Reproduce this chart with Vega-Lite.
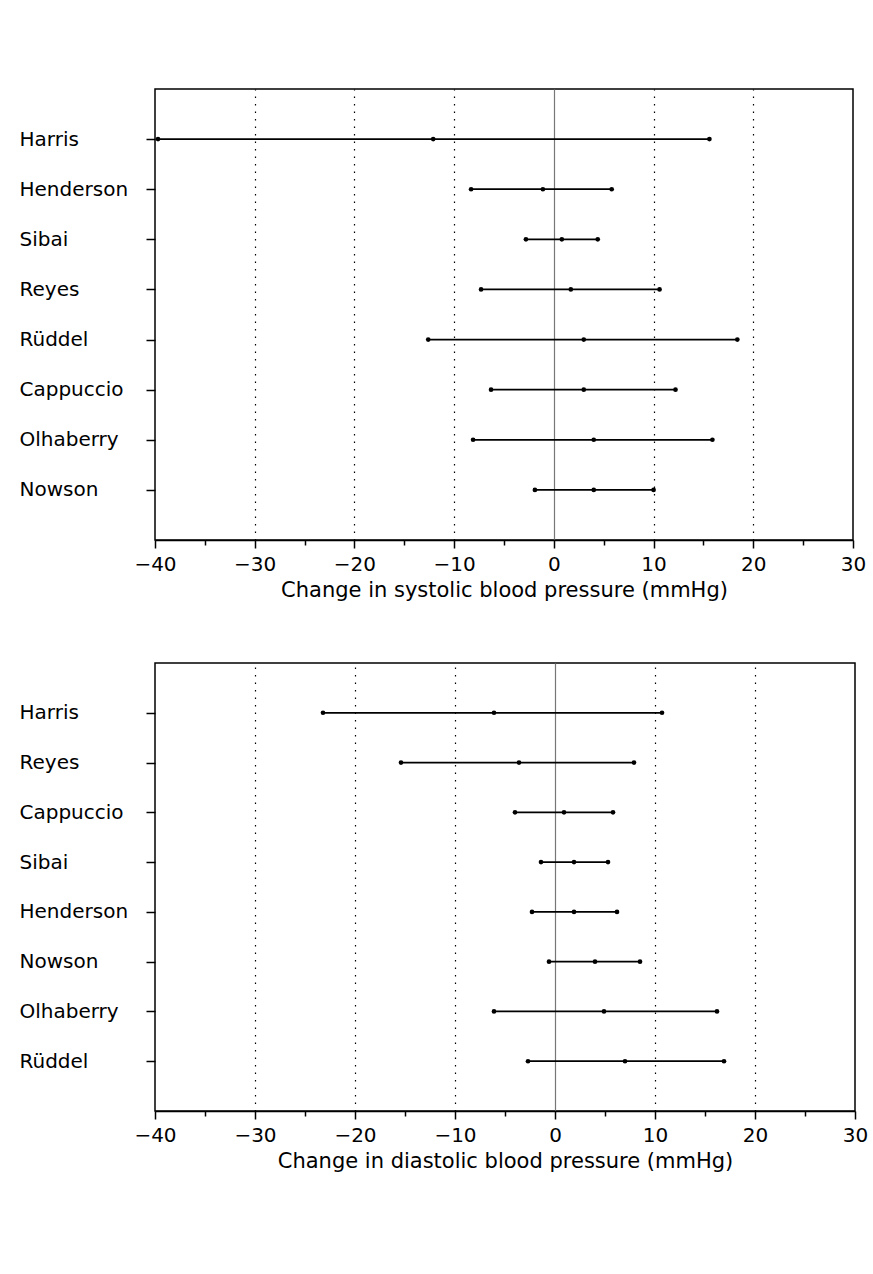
{
  "$schema": "https://vega.github.io/schema/vega-lite/v6.json",
  "background": "white",
  "padding": {"left": 18, "top": 88, "right": 10, "bottom": 10},
  "spacing": 61,
  "config": {
    "font": "DejaVu Sans",
    "view": {"stroke": "black", "strokeWidth": 1.5},
    "axis": {
      "labelFont": "DejaVu Sans",
      "labelFontSize": 20,
      "labelColor": "black",
      "titleFont": "DejaVu Sans",
      "titleFontSize": 21,
      "titleFontWeight": "normal",
      "titleColor": "black",
      "tickColor": "black",
      "domainColor": "black"
    },
    "axisY": {
      "title": null,
      "domain": false,
      "grid": false,
      "tickSize": 9,
      "tickWidth": 1.5,
      "labelAlign": "left",
      "labelBaseline": "middle",
      "labelPadding": 127
    },
    "axisX": {
      "values": [-40, -35, -30, -25, -20, -15, -10, -5, 0, 5, 10, 15, 20, 25, 30],
      "labelExpr": "datum.value % 10 === 0 ? datum.label : ''",
      "labelOverlap": false,
      "labelFlush": false,
      "labelPadding": 6,
      "titlePadding": 5,
      "domainWidth": 1.5,
      "tickWidth": 1.5,
      "tickSize": {"condition": {"test": "datum.value % 10 === 0", "value": 8}, "value": 5},
      "grid": true,
      "gridWidth": 1.2,
      "gridColor": {"condition": {"test": "datum.value === 0", "value": "#777777"}, "value": "black"},
      "gridDash": {"condition": {"test": "datum.value === 0", "value": []}, "value": [1.5, 6]},
      "gridOpacity": {"condition": {"test": "datum.value % 10 !== 0 || datum.value === -40 || datum.value === 30", "value": 0}, "value": 1}
    }
  },
  "vconcat": [
    {
      "width": 698,
      "height": 451,
      "data": {
        "values": [
          {"study": "Harris", "lower": -39.7, "est": -12.1, "upper": 15.6},
          {"study": "Henderson", "lower": -8.3, "est": -1.1, "upper": 5.8},
          {"study": "Sibai", "lower": -2.8, "est": 0.8, "upper": 4.4},
          {"study": "Reyes", "lower": -7.3, "est": 1.7, "upper": 10.6},
          {"study": "Rüddel", "lower": -12.6, "est": 3.0, "upper": 18.4},
          {"study": "Cappuccio", "lower": -6.3, "est": 3.0, "upper": 12.2},
          {"study": "Olhaberry", "lower": -8.1, "est": 4.0, "upper": 15.9},
          {"study": "Nowson", "lower": -1.9, "est": 4.0, "upper": 10.0}
        ]
      },
      "encoding": {
        "y": {
          "field": "study",
          "type": "nominal",
          "sort": ["Harris", "Henderson", "Sibai", "Reyes", "Rüddel", "Cappuccio", "Olhaberry", "Nowson"],
          "scale": {"type": "point", "padding": 1}
        }
      },
      "layer": [
        {
          "mark": {"type": "rule", "color": "black", "strokeWidth": 1.7},
          "encoding": {
            "x": {"field": "lower", "type": "quantitative", "title": "Change in systolic blood pressure (mmHg)", "scale": {"domain": [-40, 30], "nice": false, "zero": false}},
            "x2": {"field": "upper"}
          }
        },
        {
          "mark": {"type": "point", "filled": true, "color": "black", "opacity": 1, "size": 22},
          "encoding": {"x": {"field": "lower", "type": "quantitative", "title": "Change in systolic blood pressure (mmHg)"}}
        },
        {
          "mark": {"type": "point", "filled": true, "color": "black", "opacity": 1, "size": 22},
          "encoding": {"x": {"field": "est", "type": "quantitative", "title": "Change in systolic blood pressure (mmHg)"}}
        },
        {
          "mark": {"type": "point", "filled": true, "color": "black", "opacity": 1, "size": 22},
          "encoding": {"x": {"field": "upper", "type": "quantitative", "title": "Change in systolic blood pressure (mmHg)"}}
        }
      ]
    },
    {
      "width": 700,
      "height": 448,
      "data": {
        "values": [
          {"study": "Harris", "lower": -23.2, "est": -6.1, "upper": 10.7},
          {"study": "Reyes", "lower": -15.4, "est": -3.6, "upper": 7.9},
          {"study": "Cappuccio", "lower": -4.0, "est": 0.9, "upper": 5.8},
          {"study": "Sibai", "lower": -1.4, "est": 1.9, "upper": 5.3},
          {"study": "Henderson", "lower": -2.3, "est": 1.9, "upper": 6.2},
          {"study": "Nowson", "lower": -0.6, "est": 4.0, "upper": 8.5},
          {"study": "Olhaberry", "lower": -6.1, "est": 4.9, "upper": 16.2},
          {"study": "Rüddel", "lower": -2.7, "est": 7.0, "upper": 16.9}
        ]
      },
      "encoding": {
        "y": {
          "field": "study",
          "type": "nominal",
          "sort": ["Harris", "Reyes", "Cappuccio", "Sibai", "Henderson", "Nowson", "Olhaberry", "Rüddel"],
          "scale": {"type": "point", "padding": 1}
        }
      },
      "layer": [
        {
          "mark": {"type": "rule", "color": "black", "strokeWidth": 1.7},
          "encoding": {
            "x": {"field": "lower", "type": "quantitative", "title": "Change in diastolic blood pressure (mmHg)", "scale": {"domain": [-40, 30], "nice": false, "zero": false}},
            "x2": {"field": "upper"}
          }
        },
        {
          "mark": {"type": "point", "filled": true, "color": "black", "opacity": 1, "size": 22},
          "encoding": {"x": {"field": "lower", "type": "quantitative", "title": "Change in diastolic blood pressure (mmHg)"}}
        },
        {
          "mark": {"type": "point", "filled": true, "color": "black", "opacity": 1, "size": 22},
          "encoding": {"x": {"field": "est", "type": "quantitative", "title": "Change in diastolic blood pressure (mmHg)"}}
        },
        {
          "mark": {"type": "point", "filled": true, "color": "black", "opacity": 1, "size": 22},
          "encoding": {"x": {"field": "upper", "type": "quantitative", "title": "Change in diastolic blood pressure (mmHg)"}}
        }
      ]
    }
  ]
}
